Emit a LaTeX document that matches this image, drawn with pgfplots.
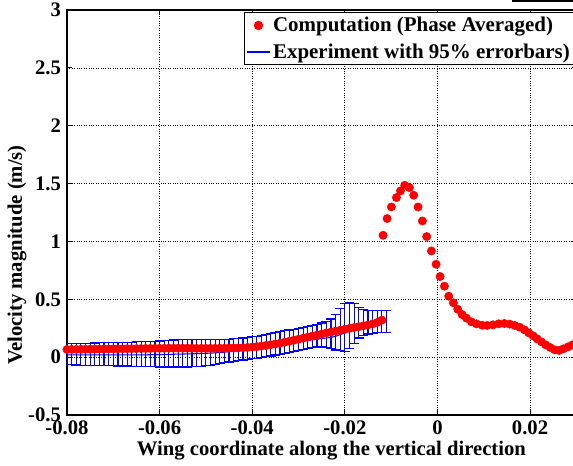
\documentclass[border=0pt]{standalone}
\usepackage{pgfplots}
\usepackage{pgfplotstable}
\pgfplotsset{compat=1.18}
\usepackage{fontspec}
\setmainfont{Liberation Serif}

\pgfplotstableread{
x y
-0.080 0.066
-0.079 0.067
-0.078 0.067
-0.077 0.068
-0.076 0.068
-0.075 0.069
-0.074 0.069
-0.073 0.070
-0.072 0.070
-0.071 0.071
-0.070 0.071
-0.069 0.072
-0.068 0.072
-0.067 0.073
-0.066 0.073
-0.065 0.074
-0.064 0.074
-0.063 0.075
-0.062 0.075
-0.061 0.076
-0.060 0.076
-0.059 0.076
-0.058 0.077
-0.057 0.077
-0.056 0.077
-0.055 0.077
-0.054 0.077
-0.053 0.077
-0.052 0.076
-0.051 0.076
-0.050 0.076
-0.049 0.076
-0.048 0.076
-0.047 0.077
-0.046 0.077
-0.045 0.078
-0.044 0.079
-0.043 0.080
-0.042 0.082
-0.041 0.084
-0.040 0.087
-0.039 0.091
-0.038 0.096
-0.037 0.101
-0.036 0.107
-0.035 0.114
-0.034 0.121
-0.033 0.129
-0.032 0.137
-0.031 0.146
-0.030 0.155
-0.029 0.164
-0.028 0.173
-0.027 0.182
-0.026 0.191
-0.025 0.200
-0.024 0.209
-0.023 0.217
-0.022 0.225
-0.021 0.233
-0.020 0.241
-0.019 0.249
-0.018 0.256
-0.017 0.263
-0.016 0.270
-0.015 0.278
-0.014 0.287
-0.013 0.300
-0.012 0.320
-0.01173 1.053
-0.01086 1.198
-0.00994 1.298
-0.00885 1.379
-0.00799 1.436
-0.00706 1.485
-0.00605 1.465
-0.00512 1.399
-0.00418 1.298
-0.00324 1.177
-0.00231 1.042
-0.00130 0.918
-0.00029 0.803
0.00058 0.697
0.00151 0.613
0.00245 0.527
0.00346 0.469
0.00439 0.414
0.00533 0.368
0.00626 0.337
0.00734 0.305
0.00842 0.288
0.00965 0.276
0.01073 0.274
0.01203 0.279
0.01324 0.288
0.01447 0.291
0.01562 0.285
0.01670 0.274
0.01778 0.259
0.01879 0.236
0.01972 0.210
0.02067 0.184
0.02153 0.158
0.02246 0.132
0.02340 0.106
0.02434 0.084
0.02533 0.063
0.02629 0.058
0.02721 0.072
0.02823 0.089
0.02916 0.106
}\comptable

\pgfplotstableread{
x y top bot
-0.080 0.020 0.115 -0.065
-0.079 0.020 0.116 -0.066
-0.078 0.020 0.118 -0.068
-0.077 0.020 0.119 -0.069
-0.076 0.020 0.120 -0.070
-0.075 0.020 0.121 -0.071
-0.074 0.020 0.122 -0.072
-0.073 0.020 0.123 -0.073
-0.072 0.020 0.124 -0.074
-0.071 0.020 0.125 -0.075
-0.070 0.020 0.126 -0.075
-0.069 0.020 0.127 -0.076
-0.068 0.020 0.128 -0.076
-0.067 0.020 0.129 -0.077
-0.066 0.020 0.130 -0.078
-0.065 0.020 0.132 -0.079
-0.064 0.020 0.133 -0.080
-0.063 0.020 0.134 -0.081
-0.062 0.021 0.136 -0.082
-0.061 0.021 0.138 -0.083
-0.060 0.022 0.140 -0.085
-0.059 0.023 0.142 -0.085
-0.058 0.024 0.145 -0.085
-0.057 0.025 0.148 -0.085
-0.056 0.026 0.150 -0.085
-0.055 0.027 0.151 -0.085
-0.054 0.028 0.152 -0.085
-0.053 0.029 0.152 -0.084
-0.052 0.030 0.152 -0.082
-0.051 0.031 0.151 -0.079
-0.050 0.033 0.150 -0.075
-0.049 0.035 0.150 -0.070
-0.048 0.037 0.150 -0.065
-0.047 0.040 0.151 -0.058
-0.046 0.043 0.152 -0.050
-0.045 0.047 0.155 -0.042
-0.044 0.051 0.158 -0.035
-0.043 0.055 0.161 -0.030
-0.042 0.060 0.165 -0.025
-0.041 0.064 0.170 -0.020
-0.040 0.069 0.175 -0.015
-0.039 0.074 0.182 -0.008
-0.038 0.080 0.190 0.000
-0.037 0.086 0.197 0.005
-0.036 0.092 0.205 0.010
-0.035 0.098 0.212 0.018
-0.034 0.105 0.220 0.025
-0.033 0.112 0.227 0.032
-0.032 0.119 0.235 0.040
-0.031 0.126 0.242 0.050
-0.030 0.133 0.250 0.060
-0.029 0.139 0.257 0.068
-0.028 0.145 0.265 0.075
-0.027 0.150 0.275 0.082
-0.026 0.155 0.285 0.088
-0.025 0.160 0.295 0.090
-0.024 0.165 0.305 0.085
-0.023 0.171 0.330 0.075
-0.022 0.180 0.370 0.062
-0.021 0.195 0.420 0.055
-0.020 0.210 0.460 0.050
-0.019 0.225 0.470 0.075
-0.018 0.240 0.460 0.115
-0.017 0.255 0.430 0.165
-0.016 0.268 0.410 0.190
-0.015 0.278 0.405 0.200
-0.014 0.287 0.405 0.205
-0.013 0.294 0.405 0.210
-0.012 0.300 0.400 0.212
-0.011 0.305 0.400 0.215
}\exptable

\begin{document}
\begin{tikzpicture}
\begin{axis}[
  at={(0,0)}, anchor=south west,
  scale only axis, width=382pt, height=303.75pt,
  xmin=-0.08, xmax=0.03, ymin=-0.5, ymax=3,
  scaled x ticks=false, scaled y ticks=false,
  xtick={-0.08,-0.06,-0.04,-0.02,0,0.02},
  xticklabels={-0.08,-0.06,-0.04,-0.02,0,0.02},
  ytick={-0.5,0,0.5,1,1.5,2,2.5,3},
  yticklabels={-0.5,0,0.5,1,1.5,2,2.5,3},
  tick align=inside, major tick length=3.5pt,
  tick style={black, line width=0.6pt},
  axis line style={line width=1.3pt},
  grid=major,
  grid style={black, line width=0.5pt, dash pattern=on 0.6pt off 1.2pt},
  tick label style={font=\fontsize{15.5}{18}\selectfont\bfseries},
  xticklabel style={yshift=-1pt},
  yticklabel style={xshift=-1pt},
  xlabel={Wing coordinate along the vertical direction},
  ylabel={Velocity magnitude (m/s)},
  label style={font=\fontsize{15.5}{18}\selectfont\bfseries},
  xlabel style={at={(axis description cs:0.519,0)}, anchor=center, yshift=-26.5pt},
  ylabel style={at={(axis description cs:-0.0982,0.395)}, anchor=center},
  legend style={at={(axis description cs:1,1)}, anchor=north east, xshift=-1pt, yshift=-1.5pt,
    draw=black, line width=0.8pt, font=\fontsize{15.7}{18}\selectfont\bfseries,
    inner sep=1.5pt, row sep=3.5pt, cells={anchor=west}},
  legend cell align=left,
]
\addlegendimage{only marks, mark=*, mark size=3.1pt, red, mark options={draw=red, fill=red}}
\addlegendentry{Computation (Phase Averaged)}
\addlegendimage{blue, line width=0.8pt, mark=none}
\addlegendentry{Experiment with 95\% errorbars)}
\addplot[forget plot, only marks, mark=*, mark size=3.1pt, red, mark options={draw=red, fill=red}] table[x=x, y=y] {\comptable};
\addplot[forget plot, blue, line width=0.8pt, mark=none,
  error bars/.cd, y dir=both, y explicit,
  error bar style={blue, line width=0.85pt},
  error mark options={blue, rotate=90, mark size=3.7pt, line width=0.85pt}]
  table[x=x, y=y, y error plus expr={\thisrow{top}-\thisrow{y}}, y error minus expr={\thisrow{y}-\thisrow{bot}}] {\exptable};
\end{axis}
\draw[line width=1.5pt] (333.75pt,310.6pt) -- (379.5pt,310.6pt);
\pgfresetboundingbox
\path[use as bounding box] (-50.25pt,-38.25pt) rectangle (379.5pt,311.25pt);
\end{tikzpicture}
\end{document}
